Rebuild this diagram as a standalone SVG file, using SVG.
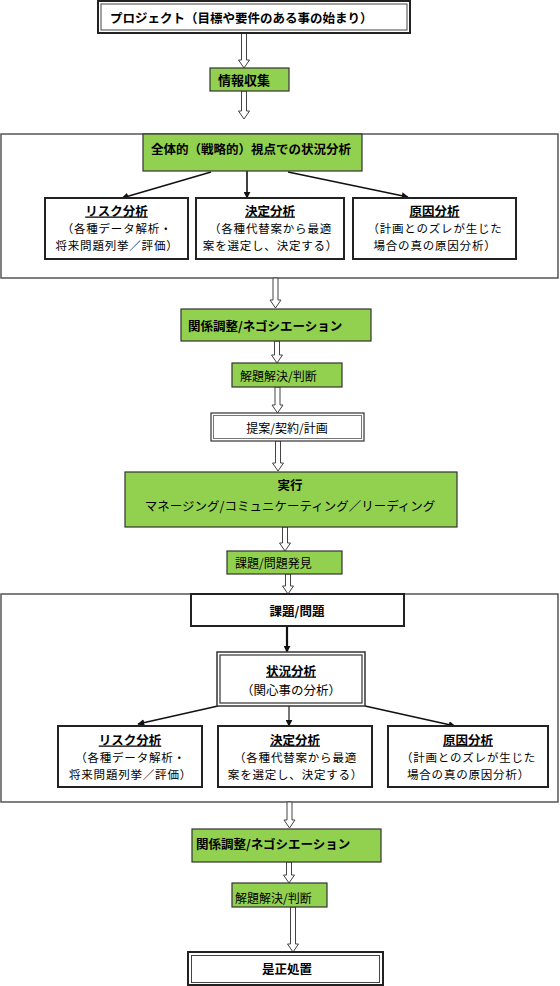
<svg xmlns="http://www.w3.org/2000/svg" width="560" height="986" viewBox="0 0 560 986">
<style>
text{font-family:"Noto Sans CJK JP","Noto Sans CJK SC",sans-serif;font-size:12.5px;fill:#000;dominant-baseline:central}
.b{font-weight:bold}
.c{text-anchor:middle}
.u{text-decoration:underline}
.s{font-size:11.5px;letter-spacing:0.8px}
.g{fill:#92D050;stroke:#333;stroke-width:1.2}
.w{fill:#fff;stroke:#222;stroke-width:2}
.frame{fill:none;stroke:#555;stroke-width:1.5}
.ha{fill:#fff;stroke:#444;stroke-width:1}
.la{stroke:#111;stroke-width:1.6;fill:none;marker-end:url(#ah)}
</style>
<defs>
<marker id="ah" viewBox="0 0 10 10" refX="9" refY="5" markerWidth="7" markerHeight="7" markerUnits="userSpaceOnUse" orient="auto">
<path d="M0,0 L10,5 L0,10 z" fill="#111"/>
</marker>
</defs>
<rect width="560" height="986" fill="#fff"/>
<g id="frames">
<rect class="frame" x="1" y="134" width="557" height="144"/>
<rect class="frame" x="1" y="594" width="557" height="208"/>
</g>
<g id="connectors">
<path class="ha" d="M241.5,33 V60 H238.5 L244,68 L249.5,60 H246.5 V33 Z"/>
<path class="ha" d="M241.5,91 V111 H238.5 L244,119 L249.5,111 H246.5 V91 Z"/>
<path class="ha" d="M273,278 V300 H270 L275.5,308 L281,300 H278 V278 Z"/>
<path class="ha" d="M274.5,341 V355 H271.5 L277,363 L282.5,355 H279.5 V341 Z"/>
<path class="ha" d="M275,387 V405 H272 L277.5,413 L283,405 H280 V387 Z"/>
<path class="ha" d="M275.5,441 V463 H272.5 L278,471 L283.5,463 H280.5 V441 Z"/>
<path class="ha" d="M282.5,527 V543 H279.5 L285,551 L290.5,543 H287.5 V527 Z"/>
<path class="ha" d="M285.5,574 V586 H282.5 L288,594 L293.5,586 H290.5 V574 Z"/>
<path class="ha" d="M287,802 V820 H284 L289.5,828 L295,820 H292 V802 Z"/>
<path class="ha" d="M286.5,862 V875 H283.5 L289,883 L294.5,875 H291.5 V862 Z"/>
<path class="ha" d="M290.5,907 V944 H287.5 L293,952 L298.5,944 H295.5 V907 Z"/>
<line class="la" x1="211" y1="172" x2="122" y2="198"/>
<line class="la" x1="247" y1="171" x2="247" y2="198"/>
<line class="la" x1="288" y1="172" x2="408" y2="197"/>
<line class="la" x1="287" y1="626" x2="287" y2="652" style="stroke-width:2.2"/>
<line class="la" x1="218" y1="706" x2="138" y2="724"/>
<line class="la" x1="289" y1="706" x2="289" y2="726" style="stroke:#555"/>
<line class="la" x1="365" y1="706" x2="455" y2="726"/>
</g>
<g id="project">
<rect x="98" y="1" width="312" height="32" fill="#fff" stroke="#222" stroke-width="2"/>
<rect x="101" y="4" width="306" height="26" fill="none" stroke="#444" stroke-width="1"/>
<text class="b" x="110" y="17">プロジェクト（目標や要件のある事の始まり）</text>
</g>
<g id="info">
<rect class="g" x="210" y="68" width="79" height="23"/>
<text class="b" x="218" y="79.5" style="font-size:13px">情報収集</text>
</g>
<g id="overall">
<rect class="g" x="143" y="134" width="219" height="37"/>
<text class="b" x="151" y="148">全体的（戦略的）視点での状況分析</text>
</g>
<g id="risk1">
<rect class="w" x="45" y="198" width="143" height="61"/>
<text class="b c u" x="116.5" y="210">リスク分析</text>
<text class="c s" x="117" y="228">（各種データ解析・</text>
<text class="c s" x="117" y="245">将来問題列挙／評価）</text>
</g>
<g id="decide1">
<rect class="w" x="196" y="198" width="148" height="61"/>
<text class="b c u" x="270" y="210">決定分析</text>
<text class="c s" x="270.5" y="228">（各種代替案から最適</text>
<text class="c s" x="270.5" y="245">案を選定し、決定する）</text>
</g>
<g id="cause1">
<rect class="w" x="353" y="198" width="163" height="61"/>
<text class="b c u" x="434.5" y="210">原因分析</text>
<text class="c s" x="435" y="228">（計画とのズレが生じた</text>
<text class="c s" x="435" y="245">場合の真の原因分析）</text>
</g>
<g id="nego1">
<rect class="g" x="181" y="309" width="190" height="32"/>
<text class="b" x="188" y="325">関係調整/ネゴシエーション</text>
</g>
<g id="solve1">
<rect class="g" x="232" y="363" width="110" height="24"/>
<text x="240" y="375.5" style="font-size:12px">解題解決/判断</text>
</g>
<g id="proposal">
<rect x="211" y="413" width="153" height="28" fill="#fff" stroke="#333" stroke-width="1.2"/>
<rect x="213.5" y="415.5" width="148" height="23" fill="none" stroke="#777" stroke-width="1"/>
<text class="c" x="287" y="427" style="font-size:12px">提案/契約/計画</text>
</g>
<g id="exec">
<rect class="g" x="125" y="472" width="332" height="55"/>
<text class="b c" x="290" y="484">実行</text>
<text class="c" x="290" y="505">マネージング/コミュニケーティング／リーディング</text>
</g>
<g id="discover">
<rect class="g" x="227" y="551" width="115" height="23"/>
<text x="235" y="562.5" style="font-size:12px">課題/問題発見</text>
</g>
<g id="issue">
<rect class="w" x="191" y="594" width="213" height="32"/>
<text class="b c" x="297" y="610">課題/問題</text>
</g>
<g id="situation">
<rect x="217" y="652" width="148" height="54" fill="#fff" stroke="#333" stroke-width="1.5"/>
<rect x="220" y="655" width="142" height="48" fill="none" stroke="#333" stroke-width="1.2"/>
<text class="b c u" x="291" y="670">状況分析</text>
<text class="c" x="291" y="689">（関心事の分析）</text>
</g>
<g id="risk2">
<rect class="w" x="58" y="726" width="144" height="61"/>
<text class="b c u" x="130" y="739">リスク分析</text>
<text class="c s" x="130.5" y="757">（各種データ解析・</text>
<text class="c s" x="130.5" y="774">将来問題列挙／評価）</text>
</g>
<g id="decide2">
<rect class="w" x="218" y="726" width="154" height="61"/>
<text class="b c u" x="295" y="739">決定分析</text>
<text class="c s" x="295.5" y="757">（各種代替案から最適</text>
<text class="c s" x="295.5" y="774">案を選定し、決定する）</text>
</g>
<g id="cause2">
<rect class="w" x="388" y="726" width="160" height="61"/>
<text class="b c u" x="468" y="739">原因分析</text>
<text class="c s" x="468.5" y="757">（計画とのズレが生じた</text>
<text class="c s" x="468.5" y="774">場合の真の原因分析）</text>
</g>
<g id="nego2">
<rect class="g" x="192" y="829" width="189" height="33"/>
<text class="b" x="196" y="843">関係調整/ネゴシエーション</text>
</g>
<g id="solve2">
<rect class="g" x="232" y="883" width="95" height="24"/>
<text x="235" y="897" style="font-size:12px">解題解決/判断</text>
</g>
<g id="correct">
<rect x="188" y="952" width="195" height="33" fill="#fff" stroke="#222" stroke-width="2"/>
<rect x="191.5" y="955.5" width="188" height="27" fill="none" stroke="#444" stroke-width="1"/>
<text class="b c" x="287" y="968">是正処置</text>
</g>
</svg>
